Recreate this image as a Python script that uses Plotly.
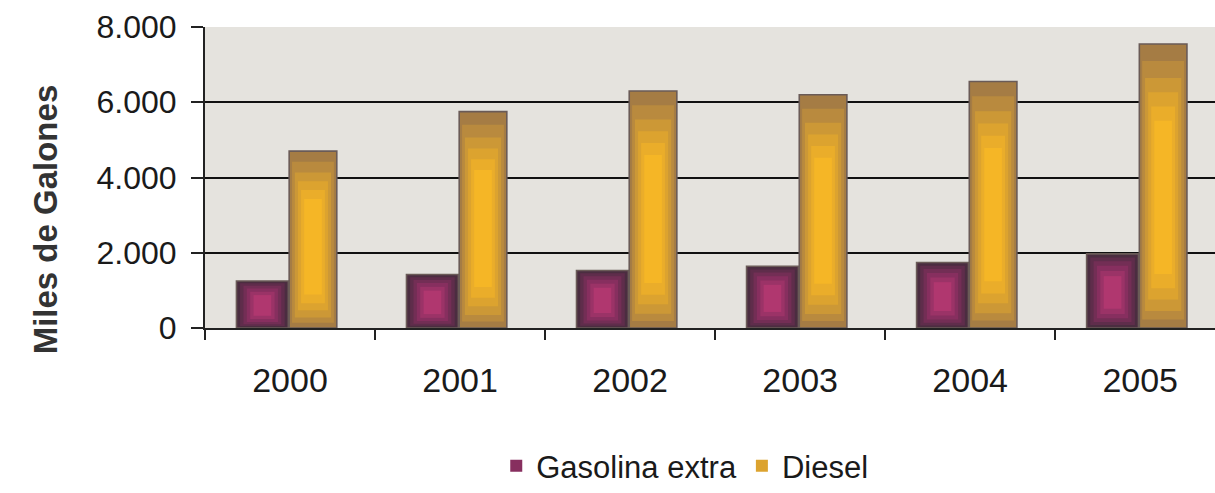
import plotly.graph_objects as go

# Consumo anual (miles de galones)
years = ["2000", "2001", "2002", "2003", "2004", "2005"]
gasolina_extra = [1250, 1420, 1530, 1640, 1740, 1970]
diesel = [4700, 5750, 6300, 6200, 6550, 7550]

y_tick_vals = [0, 2000, 4000, 6000, 8000]
y_tick_text = ["0", "2.000", "4.000", "6.000", "8.000"]
grid_vals = [2000, 4000, 6000]

FONT = "Liberation Sans, Arial, sans-serif"

# Shading rings, outermost first: (width fraction, base fraction, top fraction)
gas_rings = [(1.00, 0.00, 1.00), (0.86, 0.04, 0.95), (0.73, 0.08, 0.90),
             (0.60, 0.13, 0.84), (0.47, 0.19, 0.77), (0.34, 0.26, 0.70)]
gas_colors = ["#4b2d40", "#5f2d4b", "#732e55", "#872f5f", "#9b3367", "#b0376f"]

die_rings = [(1.00, 0.00, 1.00), (0.88, 0.03, 0.94), (0.76, 0.06, 0.88),
             (0.63, 0.10, 0.83), (0.50, 0.14, 0.78), (0.37, 0.19, 0.73)]
die_colors = ["#a57c44", "#b98a3e", "#cc9836", "#dca32f", "#eaad2a", "#f5b626"]

series = [
    ("Gasolina extra", gasolina_extra, -0.315, 0.305, gas_rings, gas_colors),
    ("Diesel", diesel, -0.005, 0.28, die_rings, die_colors),
]

LEGEND_RING = 3

fig = go.Figure()

# draw rings from outside in so the bright core sits on top
for ring in range(len(gas_rings)):
    for name, vals, off, w, rings, colors in series:
        wf, b0, b1 = rings[ring]
        col = colors[ring]
        lw = w * wf
        loff = off + (w - lw) / 2
        fig.add_trace(go.Bar(
            x=years,
            y=[v * (b1 - b0) for v in vals],
            base=[v * b0 for v in vals],
            offset=loff,
            width=lw,
            name=name,
            marker=dict(
                color=col,
                line=dict(color="#6a5b57" if ring == 0 else col,
                          width=1.6 if ring == 0 else 0),
            ),
            showlegend=(ring == LEGEND_RING),
            legendgroup=name,
            hoverinfo="skip" if ring else "x+y+name",
        ))

# horizontal grid drawn from an overlaid axis so no line sits on the top edge
fig.add_trace(go.Scatter(x=years, y=[None] * len(years), yaxis="y2",
                         showlegend=False, hoverinfo="skip"))

fig.update_layout(
    width=1215,
    height=493,
    margin=dict(l=205, r=0, t=27, b=161),
    paper_bgcolor="white",
    plot_bgcolor="#e5e3de",
    barmode="overlay",
    font=dict(family=FONT, color="#1a1a1a"),
    xaxis=dict(
        range=[-0.5, 5.44],
        tickson="boundaries",
        ticks="outside",
        ticklen=10,
        tickwidth=1.5,
        tickcolor="#222",
        showline=True,
        linecolor="#222",
        linewidth=2,
        showgrid=False,
        tickfont=dict(size=34, family=FONT, color="#1a1a1a"),
        ticklabelstandoff=21,
    ),
    yaxis=dict(
        range=[0, 8000],
        tickvals=y_tick_vals,
        ticktext=y_tick_text,
        ticks="outside",
        ticklen=12,
        tickwidth=1.5,
        tickcolor="#222",
        showline=True,
        linecolor="#222",
        linewidth=2,
        showgrid=False,
        zeroline=False,
        tickfont=dict(size=32, family=FONT, color="#1a1a1a"),
        ticklabelstandoff=8,
    ),
    yaxis2=dict(
        overlaying="y",
        range=[0, 8000],
        tickvals=grid_vals,
        showticklabels=False,
        showgrid=True,
        gridcolor="#111",
        gridwidth=2,
        zeroline=False,
        showline=False,
    ),
    legend=dict(
        orientation="h",
        x=0.475,
        xanchor="center",
        y=-0.46,
        yanchor="middle",
        font=dict(size=31, family=FONT, color="#1a1a1a"),
        itemwidth=30,
        traceorder="normal",
    ),
    annotations=[dict(
        text="<b>Miles de Galones</b>",
        xref="paper", yref="paper",
        x=-0.178, y=0.36,
        textangle=-90,
        showarrow=False,
        font=dict(size=33, family=FONT, color="#333"),
    )],
)

fig.write_html("out.html")
